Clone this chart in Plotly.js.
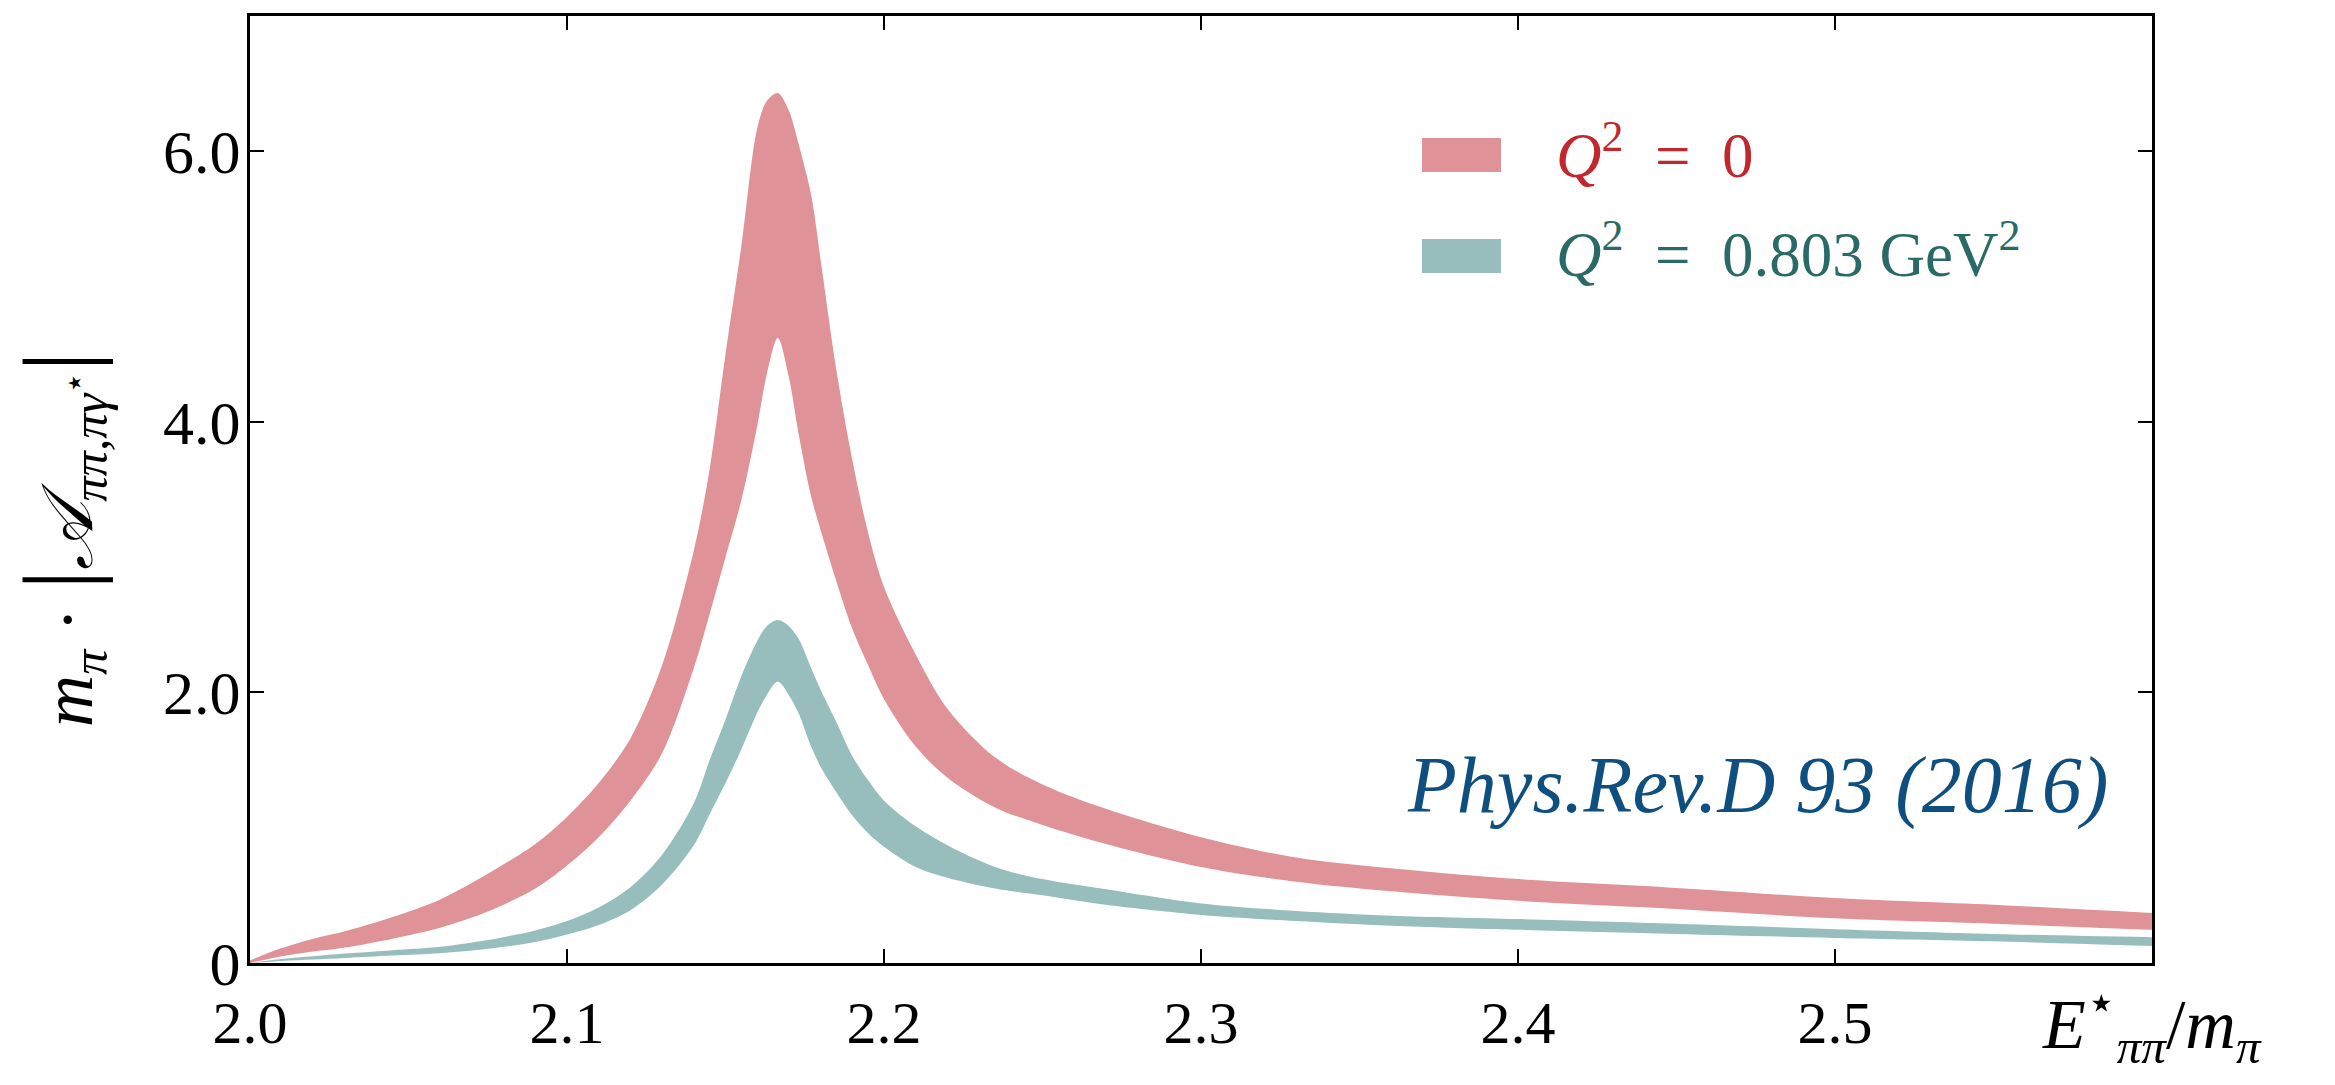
<!DOCTYPE html>
<html>
<head>
<meta charset="utf-8">
<script src="https://cdn.plot.ly/plotly-3.0.1.min.js"></script>
<style>html,body{margin:0;padding:0;background:#fff;}#chart{width:2335px;height:1085px;}</style>
</head>
<body>
<div id="chart"></div>
<script>
// E*_pipi / m_pi sample points
const energy = [2.0, 2.01, 2.02, 2.03, 2.045, 2.06, 2.075, 2.09, 2.10, 2.11, 2.12, 2.13, 2.14, 2.145, 2.15, 2.155, 2.16, 2.163, 2.1665, 2.17, 2.173, 2.177, 2.18, 2.185, 2.19, 2.195, 2.20, 2.21, 2.22, 2.235, 2.25, 2.27, 2.30, 2.33, 2.36, 2.40, 2.45, 2.50, 2.55, 2.60];

// Q^2 = 0 band (upper / lower edge)
const q0Upper = [0.02, 0.11, 0.18, 0.235, 0.34, 0.47, 0.66, 0.88, 1.08, 1.33, 1.66, 2.2, 3.05, 3.65, 4.5, 5.3, 6.17, 6.37, 6.43, 6.30, 6.06, 5.68, 5.20, 4.38, 3.72, 3.18, 2.78, 2.28, 1.88, 1.52, 1.32, 1.14, 0.93, 0.78, 0.70, 0.62, 0.555, 0.48, 0.43, 0.37];
const q0Lower = [0.0, 0.05, 0.085, 0.115, 0.18, 0.26, 0.38, 0.55, 0.72, 0.93, 1.20, 1.55, 2.18, 2.58, 3.0, 3.42, 3.97, 4.35, 4.62, 4.33, 3.92, 3.45, 3.20, 2.82, 2.47, 2.2, 1.95, 1.60, 1.37, 1.15, 1.02, 0.88, 0.71, 0.60, 0.53, 0.46, 0.40, 0.33, 0.29, 0.245];

// Q^2 = 0.803 GeV^2 band (upper / lower edge)
const q8Upper = [0.0, 0.03, 0.05, 0.07, 0.095, 0.12, 0.17, 0.24, 0.31, 0.41, 0.56, 0.80, 1.18, 1.50, 1.80, 2.12, 2.38, 2.49, 2.535, 2.49, 2.40, 2.18, 2.02, 1.78, 1.53, 1.35, 1.20, 1.01, 0.87, 0.71, 0.62, 0.545, 0.44, 0.385, 0.35, 0.325, 0.29, 0.25, 0.215, 0.19];
const q8Lower = [0.0, 0.015, 0.025, 0.037, 0.055, 0.072, 0.105, 0.155, 0.21, 0.28, 0.39, 0.58, 0.87, 1.10, 1.33, 1.58, 1.85, 1.98, 2.08, 1.98, 1.85, 1.60, 1.45, 1.26, 1.09, 0.96, 0.86, 0.71, 0.63, 0.55, 0.50, 0.43, 0.355, 0.31, 0.275, 0.245, 0.215, 0.185, 0.16, 0.126];

const xTickVals = [2.0, 2.1, 2.2, 2.3, 2.4, 2.5];
const xTickText = ['2.0', '2.1', '2.2', '2.3', '2.4', '2.5'];
const yTickVals = [0, 2, 4, 6];
const yTickText = ['0', '2.0', '4.0', '6.0'];

const legendLabels = ['<i>Q</i><sup>2</sup>&nbsp; = &nbsp;0', '<i>Q</i><sup>2</sup>&nbsp; = &nbsp;0.803 GeV<sup>2</sup>'];
const sourceNote = 'Phys.Rev.D 93 (2016)';

const pinkFill = '#df9398';
const tealFill = '#98bdbd';
const redText = '#c1272d';
const tealText = '#2a6a66';
const FONT = 'Liberation Serif, Times New Roman, serif';

function band(lo, hi, color, name) {
  return [
    {x: energy, y: lo, mode: 'lines', line: {width: 0, color: color, shape: 'spline', smoothing: 0.9}, hoverinfo: 'skip', showlegend: false, name: name + ' low'},
    {x: energy, y: hi, mode: 'lines', line: {width: 0, color: color, shape: 'spline', smoothing: 0.9}, fill: 'tonexty', fillcolor: color, showlegend: false, name: name}
  ];
}

const data = [].concat(band(q0Lower, q0Upper, pinkFill, 'Q2=0'), band(q8Lower, q8Upper, tealFill, 'Q2=0.803'));

const L = 250, R = 2152, T = 16, B = 963;
const px = X => (X - L) / (R - L);
const py = Y => (B - Y) / (B - T);

const layout = {
  width: 2335, height: 1085,
  margin: {l: L, r: 2335 - R, t: T, b: 1085 - B, pad: 0},
  paper_bgcolor: '#fff', plot_bgcolor: '#fff',
  font: {family: FONT, color: '#000', size: 60},
  showlegend: false,
  xaxis: {
    range: [2.0, 2.6], tickvals: xTickVals, ticktext: xTickText,
    ticks: 'inside', ticklen: 14, tickwidth: 2, tickcolor: '#000',
    showline: true, linewidth: 3, linecolor: '#000', mirror: 'ticks',
    showgrid: false, zeroline: false,
    tickfont: {family: FONT, size: 60, color: '#000'}, ticklabelstandoff: 5
  },
  yaxis: {
    range: [0, 7], tickvals: yTickVals, ticktext: yTickText,
    ticks: 'inside', ticklen: 14, tickwidth: 2, tickcolor: '#000',
    showline: true, linewidth: 3, linecolor: '#000', mirror: 'ticks',
    showgrid: false, zeroline: false,
    tickfont: {family: FONT, size: 62, color: '#000'}, ticklabelstandoff: -6
  },
  shapes: [
    {type: 'rect', xref: 'paper', yref: 'paper', x0: px(1422), x1: px(1501), y0: py(172), y1: py(138), fillcolor: pinkFill, line: {width: 0}},
    {type: 'rect', xref: 'paper', yref: 'paper', x0: px(1422), x1: px(1501), y0: py(273), y1: py(239), fillcolor: tealFill, line: {width: 0}}
  ],
  annotations: [
    {xref: 'paper', yref: 'paper', x: px(1554), y: py(152), xanchor: 'left', yanchor: 'middle', showarrow: false,
     text: legendLabels[0], font: {family: FONT, size: 63, color: redText}},
    {xref: 'paper', yref: 'paper', x: px(1554), y: py(250), xanchor: 'left', yanchor: 'middle', showarrow: false,
     text: legendLabels[1], font: {family: FONT, size: 63, color: tealText}},
    {xref: 'paper', yref: 'paper', x: px(2111), y: py(785), xanchor: 'right', yanchor: 'middle', showarrow: false,
     text: '<i>' + sourceNote + '</i>', font: {family: FONT, size: 80, color: '#0f4f80'}},
    {xref: 'paper', yref: 'paper', x: px(2152), y: py(1024), xanchor: 'center', yanchor: 'middle', showarrow: false,
     text: '<i>E</i><sup>⋆</sup><sub><i>ππ</i></sub>/<i>m</i><sub><i>π</i></sub>', font: {family: FONT, size: 70, color: '#000'}},
    {xref: 'paper', yref: 'paper', x: px(60), y: py(540), xanchor: 'center', yanchor: 'middle', showarrow: false, textangle: -90,
     text: '<i>m</i><sub><i>π</i></sub> · <span style="font-size:100px">|</span><i>𝒜</i><sub><i>ππ,πγ</i><sup>⋆</sup></sub><span style="font-size:100px">|</span>',
     font: {family: FONT, size: 72, color: '#000'}}
  ]
};

Plotly.newPlot('chart', data, layout, {displayModeBar: false, staticPlot: true});
</script>
</body>
</html>
